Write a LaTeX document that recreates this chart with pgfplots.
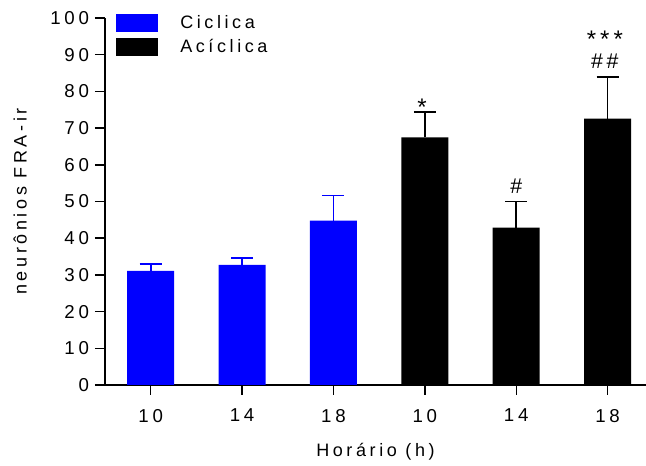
\documentclass[border=0pt]{standalone}
\usepackage{fontspec}
\setmainfont{Liberation Sans}[LetterSpace=20]
\newfontfamily\symfont{Liberation Sans}
\usepackage{pgfplots}
\pgfplotsset{compat=1.18}
\pgfplotstableread{
x y e
0 31.1 1.9
1 32.7 2.0
2 44.8 6.8
}\ciclica
\pgfplotstableread{
x y e
3 67.5 6.9
4 42.9 7.1
5 72.6 11.4
}\aciclica
\begin{document}
\begin{tikzpicture}
\begin{axis}[name=ax, scale only axis, width=405.75pt, height=275.25pt,
  xmin=-0.5, xmax=5.42, ymin=0, ymax=100,
  axis x line*=bottom, axis y line*=left,
  xtick={0,...,5}, xticklabels={10,14,18,10,14,18},
  ytick={0,10,...,100},
  font=\fontsize{13.5pt}{15pt}\selectfont,
  tick label style={font=\fontsize{14pt}{16pt}\selectfont},
  xticklabel style={yshift=-7pt},
  yticklabel style={xshift=-1pt},
  /pgf/number format/assume math mode=true,
  tick align=outside, major tick length=7.5pt,
  tick style={line width=1.1pt, black},
  axis line style={line width=1.1pt},
  ybar, bar width=35.25pt, bar shift=0pt,
  xlabel={Horário (h)}, ylabel={neurônios FRA-ir},
  xlabel style={at={(axis description cs:0.5,-0.1826)}, anchor=center},
  ylabel style={at={(axis description cs:-0.157,0.5)}, anchor=center},
  legend style={at={(axis description cs:0,1)}, anchor=north west, xshift=8.25pt, yshift=3pt,
    draw=none, fill=none, inner sep=0pt, row sep=4.5pt,
    font=\fontsize{13.5pt}{15pt}\selectfont,
    nodes={inner xsep=0pt, inner ysep=0pt, anchor=west}},
  legend cell align=left,
  legend image code/.code={\fill[#1] (0pt,-6.75pt) rectangle (31.5pt,6.75pt); \path (48pt,0pt);},
  clip=false,
]
\addplot[fill=blue, draw=none, error bars/.cd, y dir=plus, y explicit,
  error bar style={line width=1.3pt, blue},
  error mark options={rotate=90, mark size=8.25pt, line width=1.3pt, blue}]
  table[x=x, y=y, y error=e] {\ciclica};
\addlegendentry{Ciclica}
\addplot[fill=black, draw=none, error bars/.cd, y dir=plus, y explicit,
  error bar style={line width=1.3pt, black},
  error mark options={rotate=90, mark size=8.25pt, line width=1.3pt, black}]
  table[x=x, y=y, y error=e] {\aciclica};
\addlegendentry{Acíclica}
\node[font=\symfont\fontsize{18pt}{18pt}\selectfont] at (axis cs:2.97,75.8) {*};
\node[font=\symfont\fontsize{16pt}{18pt}\selectfont] at (axis cs:4,54.2) {\#};
\node[font=\symfont\fontsize{16pt}{18pt}\selectfont] at (axis cs:4.97,88.3) {\#\,\#};
\node[font=\symfont\fontsize{18pt}{18pt}\selectfont] at (axis cs:4.97,94.1) {*\,*\,*};
\end{axis}
\pgfresetboundingbox
\path[use as bounding box] ([xshift=-78.75pt,yshift=-60.75pt]ax.south west) rectangle ([yshift=13.5pt]ax.north east);
\end{tikzpicture}
\end{document}
